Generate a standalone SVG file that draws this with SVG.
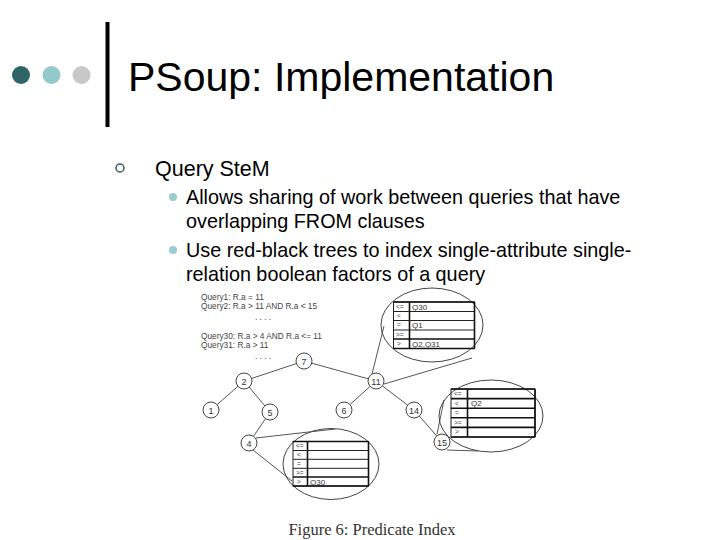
<svg xmlns="http://www.w3.org/2000/svg" width="720" height="540" viewBox="0 0 720 540">
<style>
.t{font-family:"Liberation Sans",Arial,sans-serif;fill:#000}
.fig{font-family:"Liberation Sans",Arial,sans-serif;fill:#444;font-size:8.3px}
.nl{font-family:"Liberation Sans",Arial,sans-serif;fill:#333;font-size:9px;text-anchor:middle}
.node circle{fill:#fff;stroke:#444;stroke-width:1}
.edge line{stroke:#555;stroke-width:1}
.lens{fill:none;stroke:#444;stroke-width:1}
.tb{fill:none;stroke:#222;stroke-width:1}
.tbk{stroke:#111;stroke-width:1.6}
.rl{font-family:"Liberation Sans",Arial,sans-serif;fill:#333;font-size:6.5px}
.rc{font-family:"Liberation Sans",Arial,sans-serif;fill:#333;font-size:8px}
</style>
<rect width="720" height="540" fill="#fff"/>
<!-- header -->
<circle cx="21" cy="75" r="9" fill="#2f6468"/>
<circle cx="51.5" cy="75" r="9" fill="#93c8cc"/>
<circle cx="81.5" cy="75" r="9" fill="#c8c8c8"/>
<rect x="105.5" y="22" width="4" height="105" fill="#000"/>
<text class="t" x="128" y="91" font-size="41">PSoup: Implementation</text>
<!-- bullets -->
<circle cx="120" cy="168" r="4" fill="none" stroke="#2f5f63" stroke-width="1.5"/>
<text class="t" x="155" y="176" font-size="21.5">Query SteM</text>
<circle cx="173" cy="197" r="4" fill="#9ccbcf"/>
<text class="t" x="186" y="204" font-size="19.8">Allows sharing of work between queries that have</text>
<text class="t" x="186" y="228" font-size="19.8">overlapping FROM clauses</text>
<circle cx="173" cy="250" r="4" fill="#9ccbcf"/>
<text class="t" x="186" y="257" font-size="19.8">Use red-black trees to index single-attribute single-</text>
<text class="t" x="186" y="281" font-size="19.8">relation boolean factors of a query</text>
<!-- figure queries -->
<g id="queries">
<text class="fig" x="201" y="300">Query1: R.a = 11</text>
<text class="fig" x="201" y="309">Query2: R.a &gt; 11 AND R.a &lt; 15</text>
<text class="fig" x="255" y="320">. . . .</text>
<text class="fig" x="201" y="339">Query30: R.a &gt; 4 AND R.a &lt;= 11</text>
<text class="fig" x="201" y="348">Query31: R.a &gt; 11</text>
<text class="fig" x="255" y="359">. . . .</text>
</g>
<!-- connectors -->
<g id="connectors" class="edge">
<line x1="304" y1="361" x2="244" y2="381"/>
<line x1="304" y1="361" x2="376" y2="381"/>
<line x1="244" y1="381" x2="211" y2="410"/>
<line x1="244" y1="381" x2="270" y2="412"/>
<line x1="270" y1="412" x2="249" y2="443"/>
<line x1="376" y1="381" x2="344" y2="410"/>
<line x1="376" y1="381" x2="414" y2="410"/>
<line x1="414" y1="410" x2="442" y2="442"/>
<!-- lens tangents -->
<line x1="372" y1="374" x2="384" y2="326"/>
<line x1="384" y1="384" x2="472" y2="358"/>
<line x1="437" y1="434" x2="444" y2="400"/>
<line x1="447" y1="450" x2="478" y2="451"/>
<line x1="256" y1="438" x2="335" y2="429"/>
<line x1="253" y1="450" x2="292" y2="481"/>
</g>
<!-- lenses -->
<g id="lens1">
<ellipse class="lens" cx="432" cy="325" rx="51" ry="37"/>
<rect class="tb" x="393.5" y="302" width="81" height="46.5"/>
<line class="tbk" x1="393.5" y1="302" x2="474.5" y2="302"/>
<line class="tbk" x1="474.5" y1="302" x2="474.5" y2="348.5"/>
<line class="tbk" x1="393.5" y1="348.5" x2="474.5" y2="348.5"/>
<line class="tbk" x1="393.5" y1="339" x2="474.5" y2="339"/>
<line class="tbk" x1="409.5" y1="302" x2="409.5" y2="348.5"/>
<line class="tb" x1="393.5" y1="311.5" x2="474.5" y2="311.5"/>
<line class="tb" x1="393.5" y1="320.5" x2="474.5" y2="320.5"/>
<line class="tb" x1="393.5" y1="330" x2="474.5" y2="330"/>
<text class="rl" x="396" y="309">&lt;=</text>
<text class="rl" x="397" y="318">&lt;</text>
<text class="rl" x="397" y="327">=</text>
<text class="rl" x="396" y="336.5">&gt;=</text>
<text class="rl" x="397" y="346">&gt;</text>
<text class="rc" x="412" y="309.5">Q30</text>
<text class="rc" x="412" y="328">Q1</text>
<text class="rc" x="412" y="346.5">Q2,Q31</text>
</g>
<g id="lens2">
<ellipse class="lens" cx="491" cy="416" rx="52" ry="36"/>
<rect class="tb" x="451" y="389" width="84" height="48"/>
<line class="tbk" x1="535" y1="389" x2="535" y2="437"/>
<line class="tbk" x1="451" y1="389" x2="535" y2="389"/>
<line class="tbk" x1="451" y1="437" x2="535" y2="437"/>
<line class="tbk" x1="467.5" y1="389" x2="467.5" y2="437"/>
<line class="tbk" x1="451" y1="398.6" x2="535" y2="398.6"/>
<line class="tbk" x1="451" y1="408.2" x2="535" y2="408.2"/>
<line class="tbk" x1="451" y1="417.8" x2="535" y2="417.8"/>
<line class="tbk" x1="451" y1="427.4" x2="535" y2="427.4"/>
<text class="rl" x="454" y="396">&lt;=</text>
<text class="rl" x="455" y="405.5">&lt;</text>
<text class="rl" x="455" y="415">=</text>
<text class="rl" x="454" y="424.5">&gt;=</text>
<text class="rl" x="455" y="434">&gt;</text>
<text class="rc" x="471" y="406">Q2</text>
</g>
<g id="lens3">
<ellipse class="lens" cx="331" cy="464" rx="48" ry="35.5"/>
<rect class="tb" x="293" y="441.5" width="75.5" height="44.5"/>
<line class="tbk" x1="293" y1="441.5" x2="368.5" y2="441.5"/>
<line class="tbk" x1="368.5" y1="441.5" x2="368.5" y2="486"/>
<line class="tbk" x1="293" y1="486" x2="368.5" y2="486"/>
<line class="tbk" x1="293" y1="477" x2="368.5" y2="477"/>
<line class="tbk" x1="307.5" y1="441.5" x2="307.5" y2="486"/>
<line class="tb" x1="293" y1="450.5" x2="368.5" y2="450.5"/>
<line class="tb" x1="293" y1="459.3" x2="368.5" y2="459.3"/>
<line class="tb" x1="293" y1="468.3" x2="368.5" y2="468.3"/>
<text class="rl" x="296" y="448">&lt;=</text>
<text class="rl" x="297" y="457">&lt;</text>
<text class="rl" x="297" y="466">=</text>
<text class="rl" x="296" y="475">&gt;=</text>
<text class="rl" x="297" y="484">&gt;</text>
<text class="rc" x="310" y="484.5">Q30</text>
</g>
<!-- nodes -->
<g id="n7" class="node"><circle cx="304" cy="361" r="8"/><text class="nl" x="304" y="364.5">7</text></g>
<g id="n2" class="node"><circle cx="244" cy="381" r="8"/><text class="nl" x="244" y="384.5">2</text></g>
<g id="n1" class="node"><circle cx="211" cy="410" r="8"/><text class="nl" x="211" y="413.5">1</text></g>
<g id="n5" class="node"><circle cx="270" cy="412" r="8"/><text class="nl" x="270" y="415.5">5</text></g>
<g id="n4" class="node"><circle cx="249" cy="443" r="8"/><text class="nl" x="249" y="446.5">4</text></g>
<g id="n11" class="node"><circle cx="376" cy="381" r="8"/><text class="nl" x="376" y="384.5">11</text></g>
<g id="n6" class="node"><circle cx="344" cy="410" r="8"/><text class="nl" x="344" y="413.5">6</text></g>
<g id="n14" class="node"><circle cx="414" cy="410" r="8"/><text class="nl" x="414" y="413.5">14</text></g>
<g id="n15" class="node"><circle cx="442" cy="442" r="8"/><text class="nl" x="442" y="445.5">15</text></g>
<text x="372" y="535" font-family="'Liberation Serif','Times New Roman',serif" font-size="16.5" fill="#333" text-anchor="middle">Figure 6: Predicate Index</text>
</svg>
